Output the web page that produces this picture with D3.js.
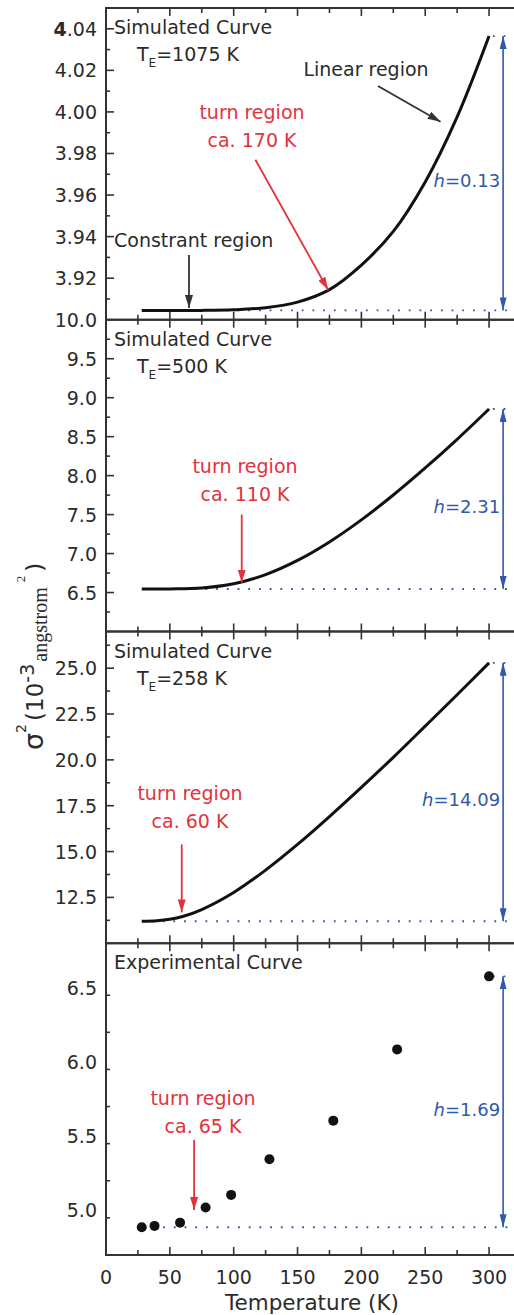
<!DOCTYPE html>
<html>
<head>
<meta charset="utf-8">
<script src="https://cdn.jsdelivr.net/npm/d3@7/dist/d3.min.js"></script>
<style>
  body { margin: 0; background: #fff; }
  svg { display: block; }
  text { font-family: "DejaVu Sans", sans-serif; fill: #2b2b2b; }
</style>
</head>
<body>
<svg id="chart" width="514" height="1315"></svg>
<script>
// sigma^2 (10^-3 angstrom^2) vs temperature (K)
const T_1075 = [28, 50, 75, 100, 125, 150, 175, 200, 225, 250, 275, 300];
const SIG_1075 = [3.9045, 3.9045, 3.9045, 3.9048, 3.9058, 3.9085, 3.9145, 3.9263, 3.9425, 3.9663, 3.9976, 4.0365];

const T_500 = [28, 50, 75, 100, 125, 150, 175, 200, 225, 250, 275, 300];
const SIG_500 = [6.545, 6.546, 6.558, 6.612, 6.730, 6.912, 7.149, 7.432, 7.751, 8.098, 8.466, 8.855];

const T_258 = [28, 40, 50, 60, 75, 100, 125, 150, 175, 200, 225, 250, 275, 300];
const SIG_258 = [11.20, 11.23, 11.31, 11.46, 11.84, 12.77, 13.99, 15.39, 16.91, 18.50, 20.14, 21.84, 23.55, 25.29];

const T_EXP = [28, 38, 58, 78, 98, 128, 178, 228, 300];
const SIG_EXP = [4.887, 4.896, 4.918, 5.020, 5.105, 5.345, 5.605, 6.085, 6.577];

// per panel: baseline, top value, h label, where the dotted baseline starts
const BASE = [3.9045, 6.545, 11.20, 4.887];
const PEAK = [4.0365, 8.855, 25.29, 6.577];
const H_LABELS = ["0.13", "2.31", "14.09", "1.69"];
const BASE_FROM = [36, 36, 36, 28];

const X_TICKS = [0, 50, 100, 150, 200, 250, 300];
const X_MINOR = d3.range(0, 325, 25);

const Y_DOMAINS = [[3.90, 4.05], [6.0, 10.0], [10, 27], [4.7, 6.8]];
const Y_LABELS = [
  ["3.92", "3.94", "3.96", "3.98", "4.00", "4.02", "4.04"],
  ["6.5", "7.0", "7.5", "8.0", "8.5", "9.0", "9.5", "10.0"],
  ["12.5", "15.0", "17.5", "20.0", "22.5", "25.0"],
  ["5.0", "5.5", "6.0", "6.5"]
];
const Y_STEP = [0.01, 0.25, 1.25, 0.25];

const TITLES = ["Simulated Curve", "Simulated Curve", "Simulated Curve", "Experimental Curve"];
const TE = ["=1075 K", "=500 K", "=258 K", null];
const TURN = ["ca. 170 K", "ca. 110 K", "ca. 60 K", "ca. 65 K"];

const svg = d3.select("#chart");
const LEFT = 106, TOP = 8, PH = 311.75;
const x = d3.scaleLinear().domain([0, 320]).range([LEFT, 514.6]);

const RED = "#e2333c", BLUE = "#2f59ab";

const defs = svg.append("defs");
function marker(id, color, len, wid) {
  defs.append("marker")
    .attr("id", id)
    .attr("markerUnits", "userSpaceOnUse")
    .attr("viewBox", `0 0 ${len} ${wid}`)
    .attr("refX", len).attr("refY", wid / 2)
    .attr("markerWidth", len).attr("markerHeight", wid)
    .attr("orient", "auto-start-reverse")
    .append("path")
    .attr("d", `M0,0L${len},${wid / 2}L0,${wid}Z`)
    .attr("fill", color);
}
marker("ahRed", RED, 13, 8);
marker("ahBlack", "#333", 13, 8);
marker("ahBlue", BLUE, 13, 7);

const series = [
  { T: T_1075, v: SIG_1075, dots: false },
  { T: T_500, v: SIG_500, dots: false },
  { T: T_258, v: SIG_258, dots: false },
  { T: T_EXP, v: SIG_EXP, dots: true }
];

function arrow(g, x1, y1, x2, y2, color, id) {
  g.append("line")
    .attr("x1", x1).attr("y1", y1).attr("x2", x2).attr("y2", y2)
    .attr("stroke", color).attr("stroke-width", 1.8)
    .attr("marker-end", `url(#${id})`);
}

series.forEach((s, i) => {
  const top = TOP + i * PH, bot = top + PH;
  const y = d3.scaleLinear().domain(Y_DOMAINS[i]).range([bot, top]);
  const g = svg.append("g");

  // blue dotted reference lines
  g.append("line")
    .attr("x1", x(BASE_FROM[i])).attr("x2", 516)
    .attr("y1", y(BASE[i])).attr("y2", y(BASE[i]))
    .attr("stroke", BLUE).attr("stroke-width", 1.8)
    .attr("stroke-dasharray", "1.8,8.9");
  g.append("line")
    .attr("x1", x(303)).attr("x2", 516)
    .attr("y1", y(PEAK[i])).attr("y2", y(PEAK[i]))
    .attr("stroke", BLUE).attr("stroke-width", 1.8)
    .attr("stroke-dasharray", "1.8,8.9");

  // data
  const pts = s.T.map((t, k) => [t, s.v[k]]);
  if (s.dots) {
    g.selectAll("circle.pt").data(pts).enter()
      .append("circle")
      .attr("class", "pt")
      .attr("cx", d => x(d[0]))
      .attr("cy", d => y(d[1]))
      .attr("r", 5)
      .attr("fill", "#111");
  } else {
    g.append("path")
      .datum(pts)
      .attr("fill", "none")
      .attr("stroke", "#111")
      .attr("stroke-width", 3)
      .attr("d", d3.line().x(d => x(d[0])).y(d => y(d[1])).curve(d3.curveCatmullRom.alpha(0.5)));
  }

  // double arrow h
  const ax = x(311);
  g.append("line")
    .attr("x1", ax).attr("x2", ax)
    .attr("y1", y(BASE[i])).attr("y2", y(PEAK[i]))
    .attr("stroke", BLUE).attr("stroke-width", 1.6)
    .attr("marker-start", "url(#ahBlue)")
    .attr("marker-end", "url(#ahBlue)");
  const hl = g.append("text")
    .attr("x", ax - 3)
    .attr("y", (y(BASE[i]) + y(PEAK[i])) / 2 + 14)
    .attr("text-anchor", "end")
    .attr("font-size", 18)
    .style("fill", BLUE);
  hl.append("tspan").attr("font-style", "italic").text("h");
  hl.append("tspan").text("=" + H_LABELS[i]);

  // frame (right side falls just outside the picture)
  g.append("rect")
    .attr("x", LEFT).attr("y", top)
    .attr("width", x(320) + 3 - LEFT).attr("height", PH)
    .attr("fill", "none").attr("stroke", "#333").attr("stroke-width", 2);

  // x ticks, bottom and top, inward
  X_MINOR.forEach(t => {
    const len = t % 50 === 0 ? 8 : 5;
    g.append("line").attr("x1", x(t)).attr("x2", x(t))
      .attr("y1", bot).attr("y2", bot - len)
      .attr("stroke", "#333").attr("stroke-width", 1.6);
    g.append("line").attr("x1", x(t)).attr("x2", x(t))
      .attr("y1", top).attr("y2", top + len)
      .attr("stroke", "#333").attr("stroke-width", 1.6);
  });

  // y ticks
  const [d0, d1] = Y_DOMAINS[i];
  const n = Math.round((d1 - d0) / Y_STEP[i]);
  const labelled = Y_LABELS[i].map(Number);
  for (let k = 1; k < n; k++) {
    const v = d0 + k * Y_STEP[i];
    const major = labelled.some(l => Math.abs(l - v) < 1e-6);
    g.append("line")
      .attr("x1", LEFT).attr("x2", LEFT + (major ? 8 : 4))
      .attr("y1", y(v)).attr("y2", y(v))
      .attr("stroke", "#333").attr("stroke-width", 1.6);
  }
  Y_LABELS[i].forEach(lbl => {
    const t = g.append("text")
      .attr("x", 97)
      .attr("y", y(+lbl) + 7)
      .attr("text-anchor", "end")
      .attr("font-size", 19);
    if (lbl === "4.04") {
      t.append("tspan").attr("font-weight", "bold").text("4");
      t.append("tspan").text(".04");
    } else {
      t.text(lbl);
    }
  });

  // titles
  g.append("text").attr("x", 114).attr("y", top + 26).attr("font-size", 19).text(TITLES[i]);
  if (TE[i]) {
    const te = g.append("text").attr("x", 137).attr("y", top + 53).attr("font-size", 19);
    te.append("tspan").text("T");
    te.append("tspan").attr("font-size", 12).attr("dy", 6).text("E");
    te.append("tspan").attr("dy", -6).text(TE[i]);
  }
});

// turn region annotations (text centre, baseline, arrow in data coords)
const TURN_POS = [
  { cx: 252, ty: 119, from: [117, 3.977], to: [174, 3.9143] },
  { cx: 245, ty: 473, from: [106.3, 7.50], to: [106.3, 6.628] },
  { cx: 190, ty: 800, from: [59.3, 15.39], to: [59.3, 11.68] },
  { cx: 203, ty: 1105, from: [69, 5.475], to: [69, 5.003] }
];
TURN_POS.forEach((p, i) => {
  const top = TOP + i * PH;
  const y = d3.scaleLinear().domain(Y_DOMAINS[i]).range([top + PH, top]);
  svg.append("text").attr("x", p.cx).attr("y", p.ty)
    .attr("text-anchor", "middle").attr("font-size", 19)
    .style("fill", RED).text("turn region");
  svg.append("text").attr("x", p.cx).attr("y", p.ty + 28)
    .attr("text-anchor", "middle").attr("font-size", 19)
    .style("fill", RED).text(TURN[i]);
  arrow(svg, x(p.from[0]), y(p.from[1]), x(p.to[0]), y(p.to[1]), RED, "ahRed");
});

// extra labels on the first panel
{
  const y = d3.scaleLinear().domain(Y_DOMAINS[0]).range([TOP + PH, TOP]);
  svg.append("text").attr("x", 366).attr("y", 76)
    .attr("text-anchor", "middle").attr("font-size", 19).text("Linear region");
  arrow(svg, x(213), y(4.0125), x(262), y(3.9953), "#333", "ahBlack");
  svg.append("text").attr("x", 114).attr("y", 247)
    .attr("font-size", 19).text("Constrant region");
  arrow(svg, x(65), y(3.9311), x(65), y(3.9056), "#333", "ahBlack");
}

// x axis labels (bottom panel)
X_TICKS.forEach(t => {
  svg.append("text").attr("x", x(t)).attr("y", 1284)
    .attr("text-anchor", "middle").attr("font-size", 19).text(t);
});
svg.append("text").attr("x", 312).attr("y", 1310)
  .attr("text-anchor", "middle").attr("font-size", 21.5).text("Temperature (K)");

// y axis label
const yl = svg.append("text")
  .attr("transform", "translate(43,750) rotate(-90)")
  .attr("font-size", 23);
yl.append("tspan").attr("font-size", 27).text("σ");
yl.append("tspan").attr("font-size", 14).attr("dy", -17).text("2");
yl.append("tspan").attr("dy", 17).attr("dx", 3).text("(10");
yl.append("tspan").attr("font-size", 19).attr("dy", -9).text("-3");
yl.append("tspan").attr("font-size", 20).attr("dy", 13).attr("dx", 2)
  .style("font-family", "'Liberation Serif', serif").text("angstrom");
yl.append("tspan").attr("font-size", 13).attr("dy", -22).attr("dx", 5)
  .style("font-family", "'Liberation Serif', serif").text("2");
yl.append("tspan").attr("dy", 18).attr("dx", 4).text(")");
</script>
</body>
</html>
